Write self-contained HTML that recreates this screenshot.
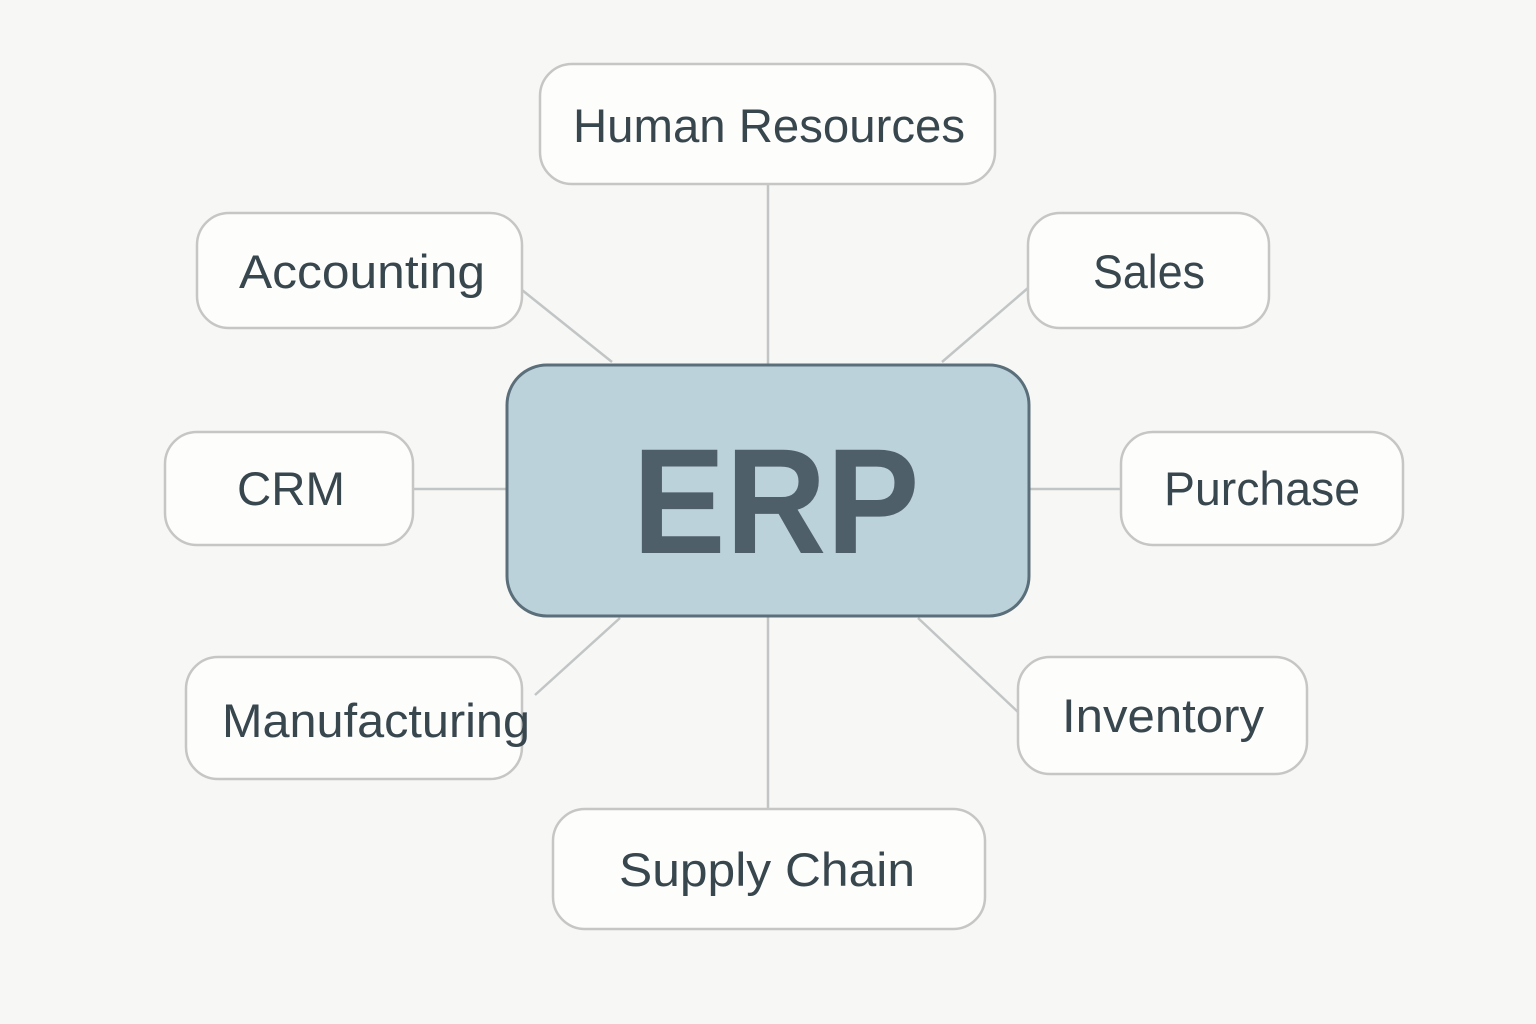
<!DOCTYPE html>
<html><head><meta charset="utf-8"><style>
html,body{margin:0;padding:0;background:#f7f7f5;}
svg{display:block}
text{font-family:"Liberation Sans",sans-serif;fill:#38464e;}
</style></head><body>
<svg width="1536" height="1024" viewBox="0 0 1536 1024">
<rect width="1536" height="1024" fill="#f7f7f5"/>
<g stroke="#c2c5c6" stroke-width="2.5" fill="none">
<line x1="768" y1="184" x2="768" y2="365"/>
<line x1="522" y1="290" x2="612" y2="362"/>
<line x1="1028" y1="288" x2="942" y2="362"/>
<line x1="413" y1="489" x2="507" y2="489"/>
<line x1="1029" y1="489" x2="1121" y2="489"/>
<line x1="535" y1="695" x2="620" y2="618"/>
<line x1="1018" y1="712" x2="918" y2="618"/>
<line x1="768" y1="616" x2="768" y2="809"/>
</g>
<g fill="#fdfdfc" stroke="#c6c6c4" stroke-width="2.5">
<rect x="540" y="64" width="455" height="120" rx="32"/>
<rect x="197" y="213" width="325" height="115" rx="32"/>
<rect x="1028" y="213" width="241" height="115" rx="32"/>
<rect x="165" y="432" width="248" height="113" rx="32"/>
<rect x="1121" y="432" width="282" height="113" rx="32"/>
<rect x="186" y="657" width="336" height="122" rx="32"/>
<rect x="1018" y="657" width="289" height="117" rx="32"/>
<rect x="553" y="809" width="432" height="120" rx="32"/>
</g>
<rect x="507" y="365" width="522" height="251" rx="40" fill="#bcd2db" stroke="#5b6f7b" stroke-width="3"/>
<g font-size="47" text-anchor="middle">
<text x="769" y="142" textLength="392" lengthAdjust="spacingAndGlyphs">Human Resources</text>
<text x="362" y="288" textLength="246" lengthAdjust="spacingAndGlyphs">Accounting</text>
<text x="1149" y="288" textLength="112" lengthAdjust="spacingAndGlyphs">Sales</text>
<text x="291" y="505" textLength="108" lengthAdjust="spacingAndGlyphs">CRM</text>
<text x="1262" y="505" textLength="196" lengthAdjust="spacingAndGlyphs">Purchase</text>
<text x="376" y="737" textLength="308" lengthAdjust="spacingAndGlyphs">Manufacturing</text>
<text x="1163" y="732" textLength="202" lengthAdjust="spacingAndGlyphs">Inventory</text>
<text x="767" y="886" textLength="296" lengthAdjust="spacingAndGlyphs">Supply Chain</text>
</g>
<text x="776" y="553" font-size="150" font-weight="bold" text-anchor="middle" textLength="287" lengthAdjust="spacingAndGlyphs" style="fill:#4e5f69">ERP</text>
</svg>
</body></html>
